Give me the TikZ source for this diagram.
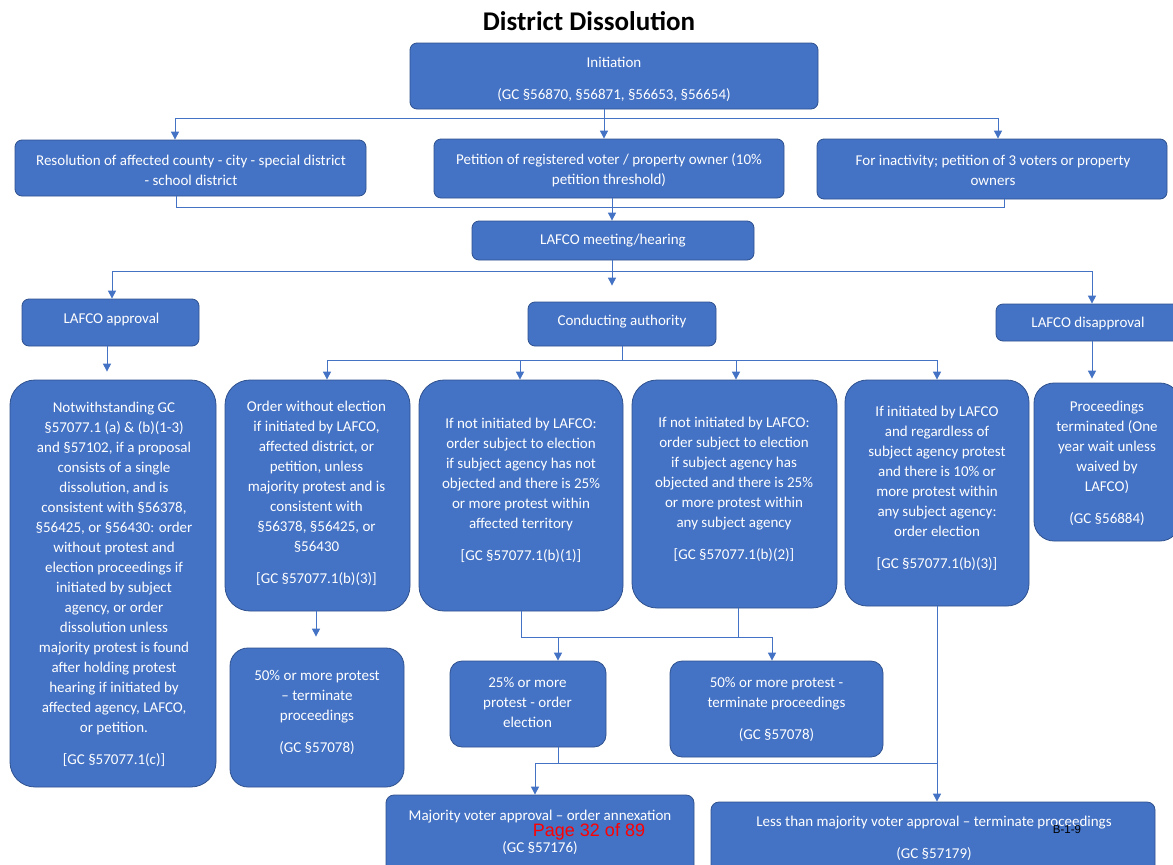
\documentclass[tikz,border=0pt]{standalone}
\usepackage{fontspec}
\setmainfont{Carlito}
\newfontfamily\arialf{Liberation Sans}
\usetikzlibrary{arrows.meta}
\definecolor{boxblue}{HTML}{4472C4}
\definecolor{boxedge}{HTML}{2F528F}
\definecolor{lineblue}{HTML}{4472C4}
\begin{document}
\begin{tikzpicture}[x=1pt,y=-1pt,
  box/.style={draw=boxedge,line width=0.8pt,fill=boxblue,inner sep=0pt,rounded corners=#1},
  box/.default=7pt,
  txt/.style={text=white,align=center,font=\fontsize{15}{20}\selectfont,inner sep=0pt},
  conn/.style={draw=lineblue,line width=1pt},
  arr/.style={conn,-{Triangle[length=8pt,width=8pt]}},
  titlestyle/.style={font=\fontsize{27}{30}\selectfont\bfseries,text=black,inner sep=0pt}]
\useasboundingbox[fill=white] (0,0) rectangle (1173,865);

\node[titlestyle] (title) at (589,21) {District Dissolution};

% boxes
\node[box,minimum width=408pt,minimum height=66pt] (init) at (614,76) {};
\node[box,minimum width=351pt,minimum height=56pt] (res) at (190.5,168) {};
\node[box,minimum width=350pt,minimum height=59pt] (pet) at (609,168.5) {};
\node[box,minimum width=350pt,minimum height=60pt] (inact) at (992,169) {};
\node[box,minimum width=282pt,minimum height=39pt] (meet) at (613,240.5) {};
\node[box,minimum width=177pt,minimum height=47pt] (appr) at (110.5,322.5) {};
\node[box,minimum width=188pt,minimum height=44pt] (cond) at (622,324) {};
\node[box,minimum width=184pt,minimum height=37pt] (disap) at (1088,322.5) {};
\node[box=25pt,minimum width=206pt,minimum height=407pt] (big) at (113,583.5) {};
\node[box=25pt,minimum width=185pt,minimum height=231pt] (ow) at (317.5,495.5) {};
\node[box=25pt,minimum width=204pt,minimum height=231pt] (b1) at (521,495.5) {};
\node[box=25pt,minimum width=205pt,minimum height=228pt] (b2) at (734.5,494) {};
\node[box=22pt,minimum width=184pt,minimum height=226pt] (b3) at (937,493) {};
\node[box=20pt,minimum width=146pt,minimum height=158pt] (proc) at (1107,462) {};
\node[box=18pt,minimum width=174pt,minimum height=139pt] (f50a) at (317,717.5) {};
\node[box=12pt,minimum width=156pt,minimum height=86pt] (p25) at (528,704) {};
\node[box=12pt,minimum width=213pt,minimum height=96pt] (p50b) at (776.5,709) {};
\node[box=8pt,minimum width=308pt,minimum height=86pt] (maj) at (540,838) {};
\node[box=8pt,minimum width=444pt,minimum height=80pt] (less) at (933,842) {};

% texts
\node[txt] (init-t) at (614,79.5) {Initiation\\[12pt](GC §56870, §56871, §56653, §56654)};
\node[txt] (res-t) at (191,170.5) {Resolution of affected county - city - special district\\- school district};
\node[txt] (pet-t) at (609,170.5) {Petition of registered voter / property owner (10\%\\petition threshold)};
\node[txt] (inact-t) at (993,170) {For inactivity; petition of 3 voters or property\\owners};
\node[txt] (meet-t) at (613,240.5) {LAFCO meeting/hearing};
\node[txt] (appr-t) at (111.5,319.5) {LAFCO approval};
\node[txt] (cond-t) at (622,321.5) {Conducting authority};
\node[txt] (disap-t) at (1088,323.5) {LAFCO disapproval};
\node[txt] (big-t) at (114,584)
  {Notwithstanding GC\\§57077.1 (a) \& (b)(1-3)\\and §57102, if a proposal\\consists of a single\\dissolution, and is\\consistent with §56378,\\§56425, or §56430: order\\without protest and\\election proceedings if\\initiated by subject\\agency, or order\\dissolution unless\\majority protest is found\\after holding protest\\hearing if initiated by\\affected agency, LAFCO,\\or petition.\\[12pt]{[GC §57077.1(c)]}};
\node[txt] (ow-t) at (316.5,493.5)
  {Order without election\\if initiated by LAFCO,\\affected district, or\\petition, unless\\majority protest and is\\consistent with\\§56378, §56425, or\\§56430\\[12pt]{[GC §57077.1(b)(3)]}};
\node[txt] (b1-t) at (521,490.5)
  {If not initiated by LAFCO:\\order subject to election\\if subject agency has not\\objected and there is 25\%\\or more protest within\\affected territory\\[12pt]{[GC §57077.1(b)(1)]}};
\node[txt] (b2-t) at (734,489.5)
  {If not initiated by LAFCO:\\order subject to election\\if subject agency has\\objected and there is 25\%\\or more protest within\\any subject agency\\[12pt]{[GC §57077.1(b)(2)]}};
\node[txt] (b3-t) at (937,488.5)
  {If initiated by LAFCO\\and regardless of\\subject agency protest\\and there is 10\% or\\more protest within\\any subject agency:\\order election\\[12pt]{[GC §57077.1(b)(3)]}};
\node[txt] (proc-t) at (1107,463.5)
  {Proceedings\\terminated (One\\year wait unless\\waived by\\LAFCO)\\[12pt](GC §56884)};
\node[txt] (f50a-t) at (317,712.5) {50\% or more protest\\– terminate\\proceedings\\[12pt](GC §57078)};
\node[txt] (p25-t) at (527.5,702.5) {25\% or more\\protest - order\\election};
\node[txt] (p50b-t) at (776.5,709) {50\% or more protest -\\terminate proceedings\\[12pt](GC §57078)};
\node[txt] (maj-t) at (540,832.5) {Majority voter approval – order annexation\\[12pt](GC §57176)};
\node[txt] (less-t) at (934,838.5) {Less than majority voter approval – terminate proceedings\\[12pt](GC §57179)};

% connectors
\coordinate (s1) at (604,118);
\draw[conn] ([xshift=-10pt]init.south) -- (s1);
\draw[arr] (s1) -- ([xshift=-5pt]pet.north);
\draw[arr] (s1) -| ([xshift=-15.5pt]res.north);
\draw[arr] (s1) -| ([xshift=6pt]inact.north);

\coordinate (m1) at (612,207);
\draw[conn] ([xshift=-14.5pt]res.south) |- (m1);
\draw[conn] ([xshift=12pt]inact.south) |- (m1);
\draw[arr] ([xshift=3pt]pet.south) -- ([xshift=-1pt]meet.north);

\coordinate (s2) at (612,271);
\draw[conn] ([xshift=-1pt]meet.south) -- (s2);
\draw[arr] (s2) -| ([xshift=1.5pt]appr.north);
\draw[arr,shorten >=16pt] (s2) -- ([xshift=-10pt]cond.north);
\draw[arr] (s2) -| ([xshift=4pt]disap.north);

\draw[arr,shorten >=8pt] ([xshift=-3.5pt]appr.south) -- ([xshift=-6pt]big.north);

\coordinate (s3) at (622,360);
\draw[conn] (cond.south) -- (s3);
\draw[arr] (s3) -| ([xshift=9.5pt]ow.north);
\draw[arr] (s3) -| ([xshift=-1pt]b1.north);
\draw[arr] (s3) -| ([xshift=1.5pt]b2.north);
\draw[arr] (s3) -| (b3.north);

\draw[arr,shorten >=4pt] ([xshift=4pt]disap.south) -- ([xshift=-15pt]proc.north);
\draw[arr,shorten >=11pt] ([xshift=-1.5pt]ow.south) -- ([xshift=-1pt]f50a.north);

\coordinate (h1) at (521,637);
\coordinate (h2) at (772,637);
\draw[conn] (b1.south) -- (h1) -- (h2);
\draw[conn] ([xshift=3.5pt]b2.south) |- (h1);
\draw[arr] ([xshift=30pt]p25.north |- h1) -- ([xshift=30pt]p25.north);
\draw[arr] (h2) -- ([xshift=-4.5pt]p50b.north);

\coordinate (h3) at (535,763);
\coordinate (h4) at (937,763);
\draw[conn] ([xshift=30pt]p25.south) -- ([xshift=30pt]p25.south |- h3);
\draw[conn] (b3.south) -- (h4) -- (h3);
\draw[arr] (h4) -- ([xshift=4pt]less.north);
\draw[arr] (h3) -- ([xshift=-5pt]maj.north);

% page marks
\node[font=\arialf\fontsize{18}{20}\selectfont,text=red,inner sep=0pt] (pg) at (589,832) {Page 32 of 89};
\node[font=\arialf\fontsize{11.5}{12}\selectfont,text=black,inner sep=0pt] (bnum) at (1067,830) {B-1-9};
\end{tikzpicture}
\end{document}
